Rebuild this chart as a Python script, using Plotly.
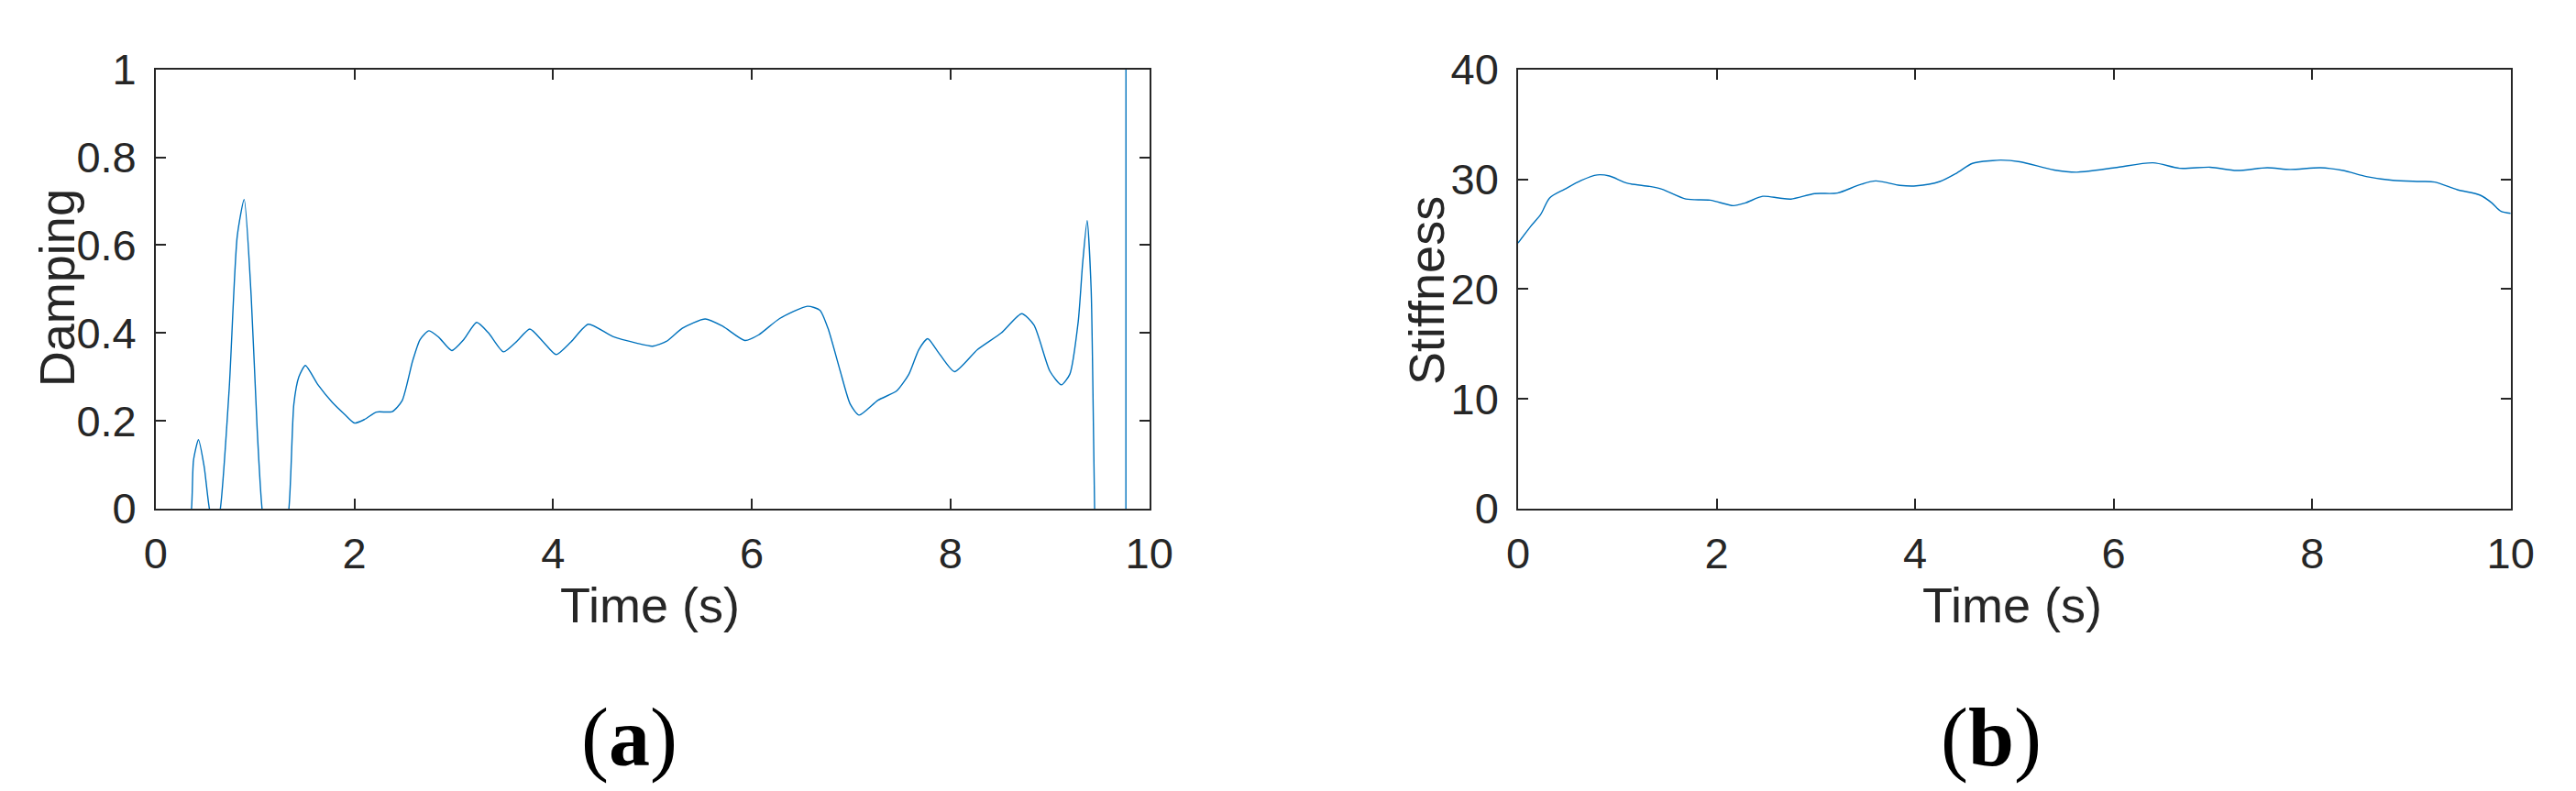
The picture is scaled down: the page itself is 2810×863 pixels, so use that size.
import plotly.graph_objects as go

# (a) damping estimate vs time (values below 0 / above 1 are clipped by the axes)
damp_t = [0.0, 0.2, 0.36, 0.38, 0.43, 0.487, 0.54, 0.6, 0.65, 0.74, 0.82, 0.89, 0.96, 1.02, 1.07,
          1.2, 1.34, 1.39, 1.44, 1.506, 1.63, 1.777, 1.90, 2.0, 2.1, 2.22, 2.38, 2.48, 2.585, 2.66,
          2.75, 2.85, 2.98, 3.1, 3.23, 3.35, 3.50, 3.63, 3.765, 3.9, 4.03, 4.18, 4.354, 4.6, 4.84,
          5.0, 5.14, 5.30, 5.53, 5.71, 5.93, 6.07, 6.28, 6.56, 6.685, 6.766, 6.89, 6.99, 7.08,
          7.27, 7.457, 7.58, 7.68, 7.77, 7.88, 8.04, 8.27, 8.51, 8.716, 8.84, 9.0, 9.115, 9.2,
          9.285, 9.33, 9.375, 9.415, 9.44, 9.45, 9.6, 9.762, 9.768, 10.0]
damp_v = [-0.6, -0.3, 0.0, 0.11, 0.157, 0.096, 0.0, -0.05, 0.0, 0.276, 0.62, 0.704, 0.486, 0.185, 0.0,
          -0.2, 0.0, 0.238, 0.30, 0.326, 0.283, 0.242, 0.215, 0.195, 0.203, 0.22, 0.221, 0.246, 0.336,
          0.385, 0.405, 0.39, 0.36, 0.385, 0.424, 0.40, 0.357, 0.38, 0.409, 0.38, 0.351, 0.38, 0.42,
          0.392, 0.377, 0.37, 0.381, 0.411, 0.432, 0.415, 0.383, 0.396, 0.433, 0.461, 0.452, 0.411,
          0.313, 0.238, 0.213, 0.247, 0.268, 0.306, 0.362, 0.387, 0.355, 0.312, 0.362, 0.40, 0.444,
          0.418, 0.313, 0.282, 0.306, 0.426, 0.56, 0.656, 0.50, 0.156, 0.0, -2.0, -5.0, 5.0, 5.0]

# (b) stiffness estimate vs time
stiff_t = [0.0, 0.126, 0.228, 0.318, 0.47, 0.635, 0.797, 0.92, 1.10, 1.326, 1.448, 1.69, 1.935,
           2.17, 2.29, 2.465, 2.627, 2.75, 2.99, 3.216, 3.44, 3.603, 3.846, 4.01, 4.25, 4.416,
           4.578, 4.78, 4.863, 5.055, 5.40, 5.63, 6.01, 6.397, 6.666, 6.973, 7.24, 7.547, 7.778,
           8.084, 8.314, 8.545, 8.813, 9.08, 9.234, 9.463, 9.694, 9.81, 9.9, 10.0]
stiff_v = [24.2, 25.7, 26.8, 28.3, 29.1, 29.9, 30.4, 30.3, 29.65, 29.35, 29.1, 28.2, 28.1,
           27.6, 27.85, 28.45, 28.3, 28.2, 28.7, 28.75, 29.5, 29.85, 29.45, 29.4, 29.8, 30.55,
           31.45, 31.7, 31.75, 31.6, 30.85, 30.65, 31.05, 31.5, 31.0, 31.1, 30.8, 31.05, 30.9,
           31.05, 30.8, 30.25, 29.9, 29.8, 29.75, 29.05, 28.55, 27.85, 27.1, 26.9]

x_ticks = [0, 2, 4, 6, 8, 10]
damp_ticks = [0, 0.2, 0.4, 0.6, 0.8, 1]
stiff_ticks = [0, 10, 20, 30, 40]

W, H = 2810, 863
INK = "#262626"
BLUE = "#0072BD"

# smooth part of the damping curve, then the singular jump drawn straight
cut = damp_t.index(9.45)

fig = go.Figure()
fig.add_trace(go.Scatter(x=damp_t[:cut + 1], y=damp_v[:cut + 1], mode="lines",
                         line=dict(color=BLUE, width=1.4, shape="spline", smoothing=0.6),
                         xaxis="x", yaxis="y"))
fig.add_trace(go.Scatter(x=damp_t[cut:], y=damp_v[cut:], mode="lines",
                         line=dict(color=BLUE, width=1.4),
                         xaxis="x", yaxis="y"))
fig.add_trace(go.Scatter(x=stiff_t, y=stiff_v, mode="lines",
                         line=dict(color=BLUE, width=1.4, shape="spline", smoothing=0.8),
                         xaxis="x2", yaxis="y2"))

axis_common = dict(
    showgrid=False, zeroline=False, showline=True, linecolor=INK, linewidth=1.5,
    mirror="ticks", ticks="inside", ticklen=11, tickwidth=1.5, tickcolor=INK,
    tickfont=dict(family="Liberation Sans, Arial", size=47, color=INK),
)
ydom = [1 - 554 / H, 1 - 43.5 / H]

fig.update_layout(
    width=W, height=H,
    margin=dict(l=0, r=0, t=0, b=0),
    paper_bgcolor="white", plot_bgcolor="white",
    showlegend=False,
    xaxis=dict(domain=[151 / W, 1250 / W], range=[0, 10], tickvals=x_ticks,
               ticklabelstandoff=7, anchor="y", **axis_common),
    yaxis=dict(domain=ydom, range=[0, 1], tickvals=damp_ticks,
               ticktext=[str(v) for v in damp_ticks],
               ticklabelstandoff=10, anchor="x", **axis_common),
    xaxis2=dict(domain=[1658 / W, 2756 / W], range=[0, 10], tickvals=x_ticks,
                ticklabelstandoff=7, anchor="y2", **axis_common),
    yaxis2=dict(domain=ydom, range=[0, 40], tickvals=stiff_ticks,
                ticklabelstandoff=10, anchor="x2", **axis_common),
)

lab_font = dict(family="Liberation Sans, Arial", size=54, color=INK)
cap_font = dict(family="Liberation Serif, Times New Roman", size=90, color="black")


def note(text, px, py, font, angle=0):
    fig.add_annotation(text=text, x=px / W, y=1 - py / H, xref="paper", yref="paper",
                       showarrow=False, font=font, textangle=angle,
                       xanchor="center", yanchor="middle")


note("Time (s)", 698, 666, lab_font)
note("Time (s)", 2205, 666, lab_font)
note("Damping", 41, 297, lab_font, angle=-90)
note("Stiffness", 1556, 300, lab_font, angle=-90)
note("(<b>a</b>)", 675, 820, cap_font)
note("(<b>b</b>)", 2181, 820, cap_font)

fig.write_html("out.html")
